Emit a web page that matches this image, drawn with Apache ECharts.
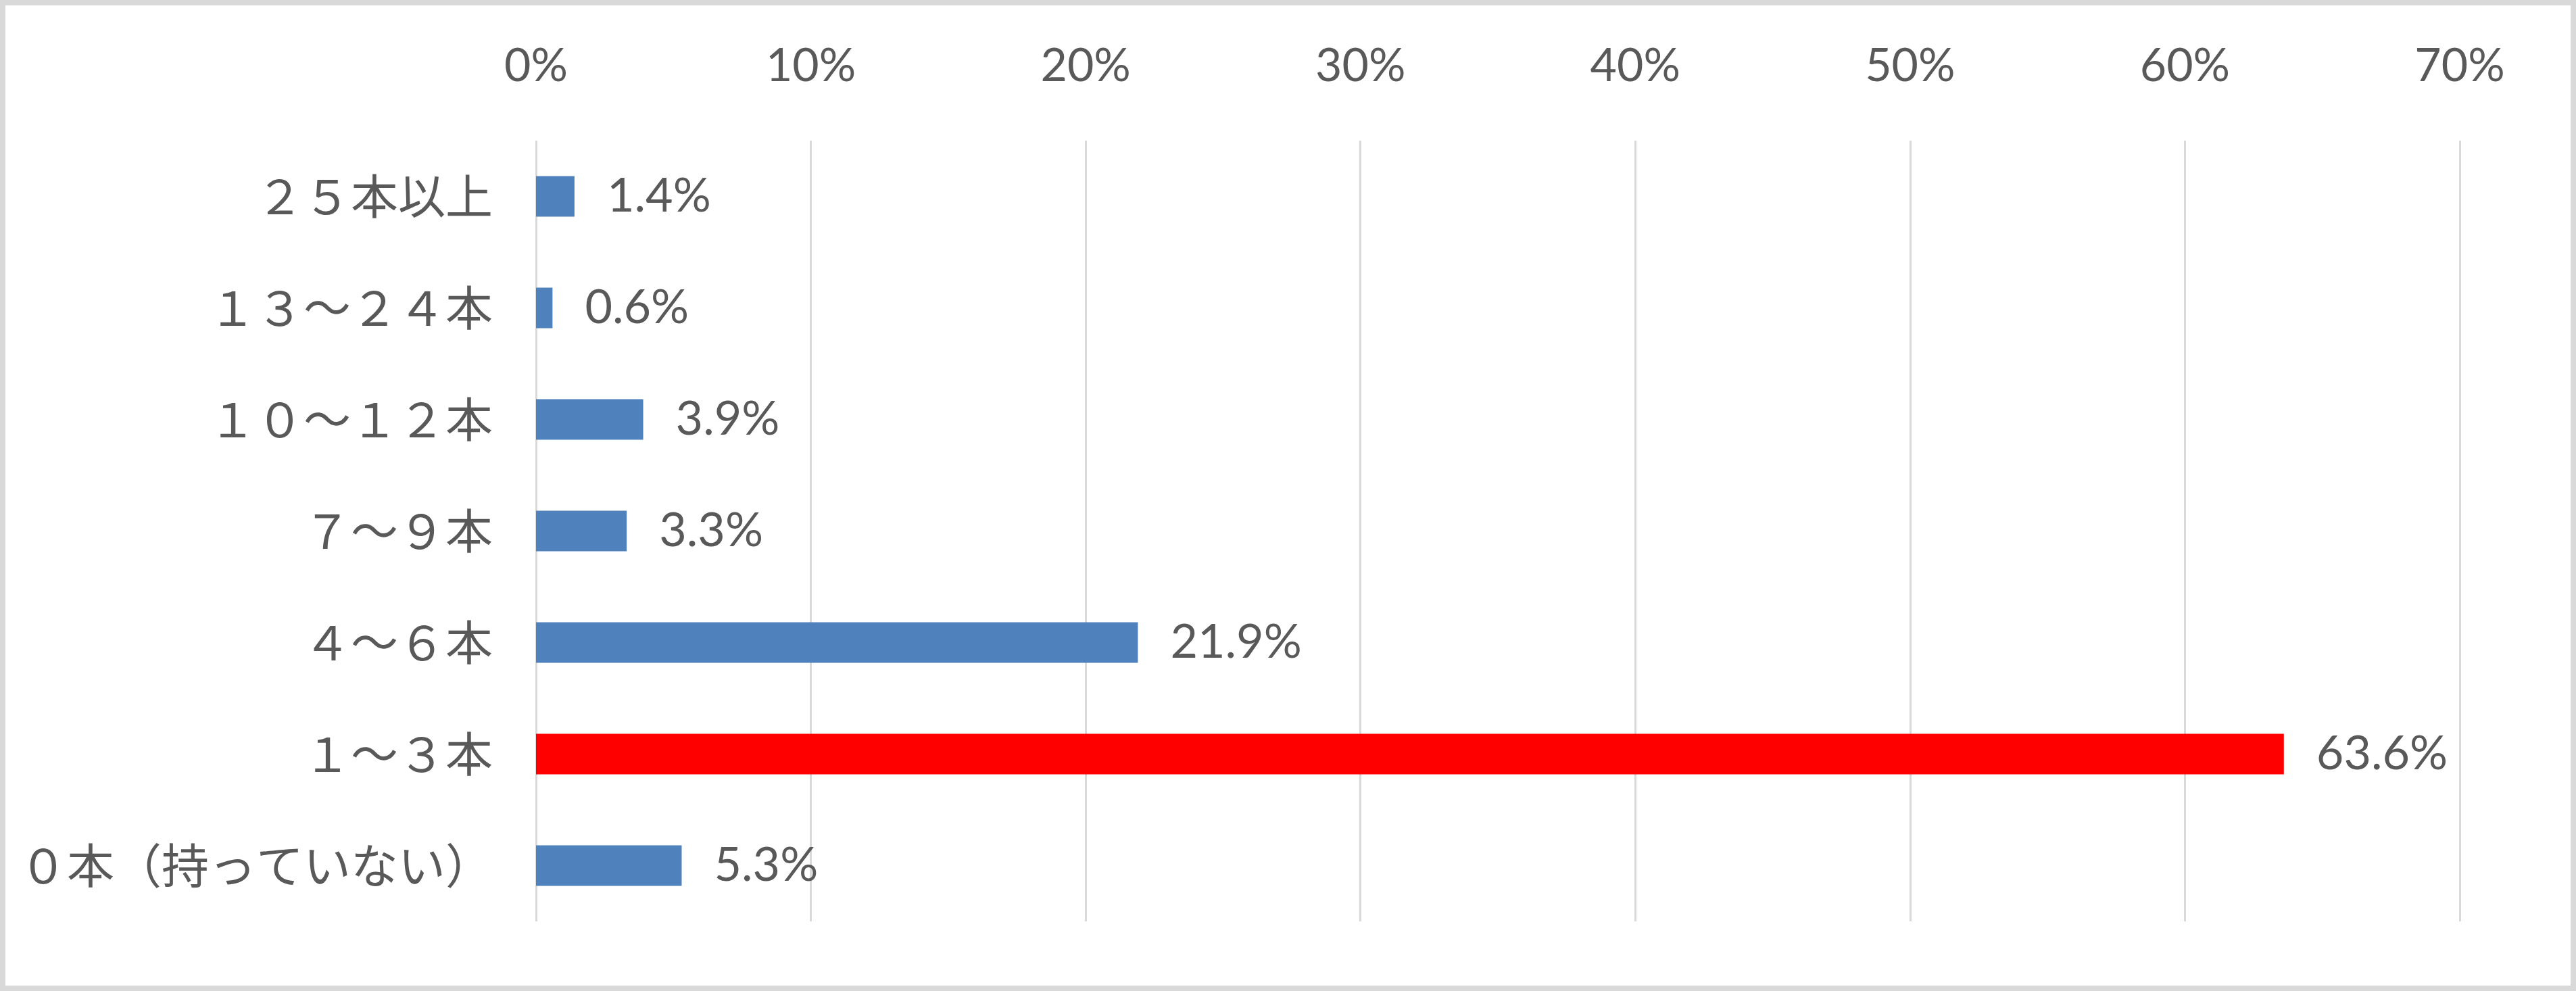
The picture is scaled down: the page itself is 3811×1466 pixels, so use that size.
<!DOCTYPE html>
<html>
<head>
<meta charset="utf-8">
<script src="https://cdn.jsdelivr.net/npm/echarts@6/dist/echarts.min.js"></script>
<style>
html,body{margin:0;padding:0;background:#fff;}
#wrap{width:3811px;height:1466px;box-sizing:border-box;border:8px solid #d9d9d9;background:#fff;}
#chart{width:100%;height:100%;}
</style>
</head>
<body>
<div id="wrap"><div id="chart"></div></div>
<script>
const categories = ["２５本以上", "１３～２４本", "１０～１２本", "７～９本", "４～６本", "１～３本", "０本（持っていない）"];
const values = [1.4, 0.6, 3.9, 3.3, 21.9, 63.6, 5.3];
const highlightCategory = "１～３本";
const xTicks = [0, 10, 20, 30, 40, 50, 60, 70];

const chart = echarts.init(document.getElementById('chart'), null, {renderer: 'canvas'});
const textColor = '#595959';
const font = 'Lato, "Noto Sans CJK JP", sans-serif';
chart.setOption({
  animation: false,
  backgroundColor: '#fff',
  grid: {left: 785, right: 164, top: 200, bottom: 95, containLabel: false},
  xAxis: {
    type: 'value', position: 'top',
    min: xTicks[0], max: xTicks[xTicks.length - 1], interval: 10,
    axisLine: {show: false}, axisTick: {show: false},
    splitLine: {show: true, lineStyle: {color: '#d9d9d9', width: 3}},
    axisLabel: {color: textColor, fontSize: 68, fontFamily: font, margin: 76,
      formatter: v => v + '%'}
  },
  yAxis: {
    type: 'category', data: categories, inverse: true,
    axisLine: {show: false}, axisTick: {show: false},
    axisLabel: {color: textColor, fontSize: 70, fontFamily: '"Noto Sans CJK JP", sans-serif', margin: 64}
  },
  series: [{
    type: 'bar',
    barWidth: 60,
    data: values.map((v, i) => ({
      value: v,
      itemStyle: {color: categories[i] === highlightCategory ? '#ff0000' : '#4f81bd'}
    })),
    label: {
      show: true, position: 'right', distance: 48,
      color: textColor, fontSize: 70, fontFamily: font,
      formatter: p => p.value.toFixed(1) + '%'
    }
  }]
});
</script>
</body>
</html>
